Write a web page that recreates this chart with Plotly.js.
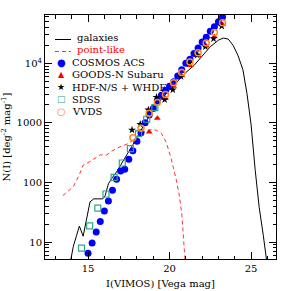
<!DOCTYPE html>
<html>
<head>
<meta charset="utf-8">
<script src="https://cdn.plot.ly/plotly-3.0.1.min.js"></script>
<style>html,body{margin:0;padding:0;background:#fff;}#chart{width:291px;height:291px;}</style>
</head>
<body>
<div id="chart"></div>
<script>
// galaxies model curve
var galMag = [13.94,14.1,14.3,14.47,14.7,14.85,15.0,15.12,15.35,15.9,16.05,16.25,16.5,16.75,17.0,17.25,17.5,17.75,18.0,18.25,18.5,18.75,19.0,19.5,20.0,20.5,21.0,21.5,22.0,22.5,23.0,23.3,23.6,23.9,24.2,24.5,24.75,25.0,25.25,25.5,25.75,25.95];
var galN = [5,8.5,13,18.5,12.5,20,34,47,53,53,60,95,122,150,195,250,330,430,570,760,1000,1300,1650,2500,3600,5100,7000,9200,13500,19000,24500,26500,25500,20000,13500,7800,3100,950,165,38,13,5];
// point-like model curve
var ptMag = [13.45,13.8,14.1,14.5,14.7,15.0,15.4,15.75,16.15,16.45,16.9,17.4,17.8,18.2,18.6,18.9,19.2,19.5,19.8,20.1,20.4,20.6,20.75,20.85,20.95];
var ptN = [60,73,85,142,195,215,255,290,290,335,390,440,520,640,750,770,750,670,470,250,115,60,30,14,5];
// COSMOS ACS
var cosmosMag = [15.0,15.25,15.5,15.75,16.0,16.25,16.5,16.75,17.0,17.25,17.5,17.75,18.0,18.25,18.5,18.75,19.0,19.25,19.5,19.75,20.0,20.25,20.5,20.75,21.0,21.25,21.5,21.75,22.0,22.25,22.5,22.75,23.0,23.25];
var cosmosN = [6.5,9.6,14.7,22,33,49,74,113,155,167,246,340,490,680,1000,1350,1750,2350,2900,3500,4100,4900,6100,7800,10000,11700,14600,18000,22700,27500,34600,41000,50000,60000];
// GOODS-N Subaru
var goodsMag = [18.75,19.25,19.75,20.25,20.75,21.25,21.75,22.25,22.75,23.25];
var goodsN = [700,1200,2600,4100,6200,9200,13500,19500,28000,45000];
// HDF-N/S + WHDF
var hdfMag = [17.7,18.2,18.7,19.2,19.7,20.2,20.7,21.2,21.7,22.2,22.7,23.2];
var hdfN = [760,950,1650,2700,2450,3600,6000,10000,13700,19000,26000,42000];
// SDSS
var sdssMag = [14.6,15.1,15.6,16.1,16.6,17.1,17.6,18.1,18.6,19.1];
var sdssN = [7.9,18.6,37,64,122,212,370,660,1150,1800];
// VVDS
var vvdsMag = [17.75,18.25,18.75,19.25,19.75,20.25,20.75,21.25,21.75,22.25,22.75,23.25];
var vvdsN = [560,810,1450,2200,3000,4700,7000,10500,15000,22000,33000,48000];

var xTicks = [15,20,25];
var yTicks = [10,100,1000,10000];
var yTickText = ['10','100','1000','10<sup>4</sup>'];

var FONT = 'Liberation Serif, DejaVu Serif, serif';
var LFONT = 'DejaVu Serif, Liberation Serif, serif';
var cBlue = '#0000ff', cRed = '#ff0000', cDash = '#ff3535', cTeal = '#2ea886', cOrange = '#ff8c1a';

var yMinor = [];
for (var k = 0; k <= 4; k++) for (var m = 2; m <= 9; m++) yMinor.push(m * Math.pow(10, k));

var traces = [
  {x: galMag, y: galN, mode: 'lines', line: {color: '#000', width: 1}, name: 'galaxies'},
  {x: ptMag, y: ptN, mode: 'lines', line: {color: cDash, width: 1, dash: '4px,3px'}, name: 'point-like'},
  {x: cosmosMag, y: cosmosN, mode: 'markers', marker: {color: cBlue, size: 7, symbol: 'circle'}, name: 'COSMOS ACS'},
  {x: goodsMag, y: goodsN, mode: 'markers', marker: {color: cRed, size: 6, symbol: 'triangle-up'}, name: 'GOODS-N Subaru'},
  {x: hdfMag, y: hdfN, mode: 'markers', marker: {color: '#000', size: 6, symbol: 'star'}, name: 'HDF-N/S + WHDF'},
  {x: sdssMag, y: sdssN, mode: 'markers', marker: {color: cTeal, size: 6, symbol: 'square-open', line: {width: 1.2, color: cTeal}}, name: 'SDSS'},
  {x: vvdsMag, y: vvdsN, mode: 'markers', marker: {color: cOrange, size: 6, symbol: 'circle-open', line: {width: 1.5, color: cOrange}}, name: 'VVDS'}
];

function px2x(p){ return (p - 45) / 231; }
function px2y(p){ return (259 - p) / 244; }

var legRows = [
  {t: 'galaxies', c: '#000', y: 37.5, kind: 'line'},
  {t: 'point-like', c: cRed, y: 49.5, kind: 'dash'},
  {t: 'COSMOS ACS', c: '#000', y: 62.3, sym: '\u25CF', sc: cBlue, ss: 10},
  {t: 'GOODS-N Subaru', c: '#000', y: 74.7, sym: '\u25B2', sc: cRed, ss: 8},
  {t: 'HDF-N/S + WHDF', c: '#000', y: 87, sym: '\u2605', sc: '#000', ss: 9},
  {t: 'SDSS', c: '#000', y: 99.3, sym: '\u25A1', sc: cTeal, ss: 9},
  {t: 'VVDS', c: '#000', y: 111.3, sym: '\u25CB', sc: cOrange, ss: 10}
];
var annotations = [];
var shapes = [];
legRows.forEach(function(r){
  if (r.kind) {
    annotations.push({xref: 'paper', yref: 'paper', x: px2x(75), y: px2y(r.y), xanchor: 'left', yanchor: 'middle', text: r.t, showarrow: false, font: {family: LFONT, size: 10, color: r.c}});
    shapes.push({type: 'line', xref: 'paper', yref: 'paper', x0: px2x(55), x1: px2x(71), y0: px2y(r.y + 2), y1: px2y(r.y + 2), line: {color: r.kind === 'line' ? '#000' : cDash, width: 1, dash: r.kind === 'line' ? 'solid' : '4px,3px'}});
  } else {
    annotations.push({xref: 'paper', yref: 'paper', x: px2x(70), y: px2y(r.y), xanchor: 'left', yanchor: 'middle', text: r.t, showarrow: false, font: {family: LFONT, size: 10, color: r.c}});
    annotations.push({xref: 'paper', yref: 'paper', x: px2x(61), y: px2y(r.y), xanchor: 'center', yanchor: 'middle', text: r.sym, showarrow: false, font: {family: 'DejaVu Sans', size: r.ss, color: r.sc}});
  }
});

var layout = {
  width: 291, height: 291,
  margin: {l: 45, r: 15, t: 15, b: 32},
  paper_bgcolor: '#fff', plot_bgcolor: '#fff',
  showlegend: false,
  font: {family: FONT, size: 10.5, color: '#000'},
  xaxis: {
    range: [12.36, 26.53], tickmode: 'array', tickvals: xTicks, ticktext: xTicks.map(String),
    ticks: 'inside', ticklen: 7, tickwidth: 1, tickcolor: '#000',
    minor: {tickmode: 'linear', tick0: 0, dtick: 1, ticks: 'inside', ticklen: 3.5, tickcolor: '#000', showgrid: false},
    showline: true, linecolor: '#000', linewidth: 1, mirror: 'allticks',
    showgrid: false, zeroline: false,
    tickfont: {family: LFONT, size: 10},
    title: {text: 'I(VIMOS) [Vega mag]', font: {family: LFONT, size: 10}, standoff: 6}
  },
  yaxis: {
    type: 'log', range: [0.7146, 4.811], tickmode: 'array', tickvals: yTicks, ticktext: yTickText,
    ticks: 'inside', ticklen: 7, tickwidth: 1, tickcolor: '#000',
    minor: {tickmode: 'array', tickvals: yMinor, ticks: 'inside', ticklen: 3.5, tickcolor: '#000', showgrid: false},
    showline: true, linecolor: '#000', linewidth: 1, mirror: 'allticks',
    showgrid: false, zeroline: false,
    tickfont: {family: LFONT, size: 10},
    title: {text: 'N(I) [deg<sup>-2</sup> mag<sup>-1</sup>]', font: {family: LFONT, size: 10}, standoff: 5}
  },
  annotations: annotations,
  shapes: shapes
};

Plotly.newPlot('chart', traces, layout, {displayModeBar: false, staticPlot: true});
</script>
</body>
</html>
